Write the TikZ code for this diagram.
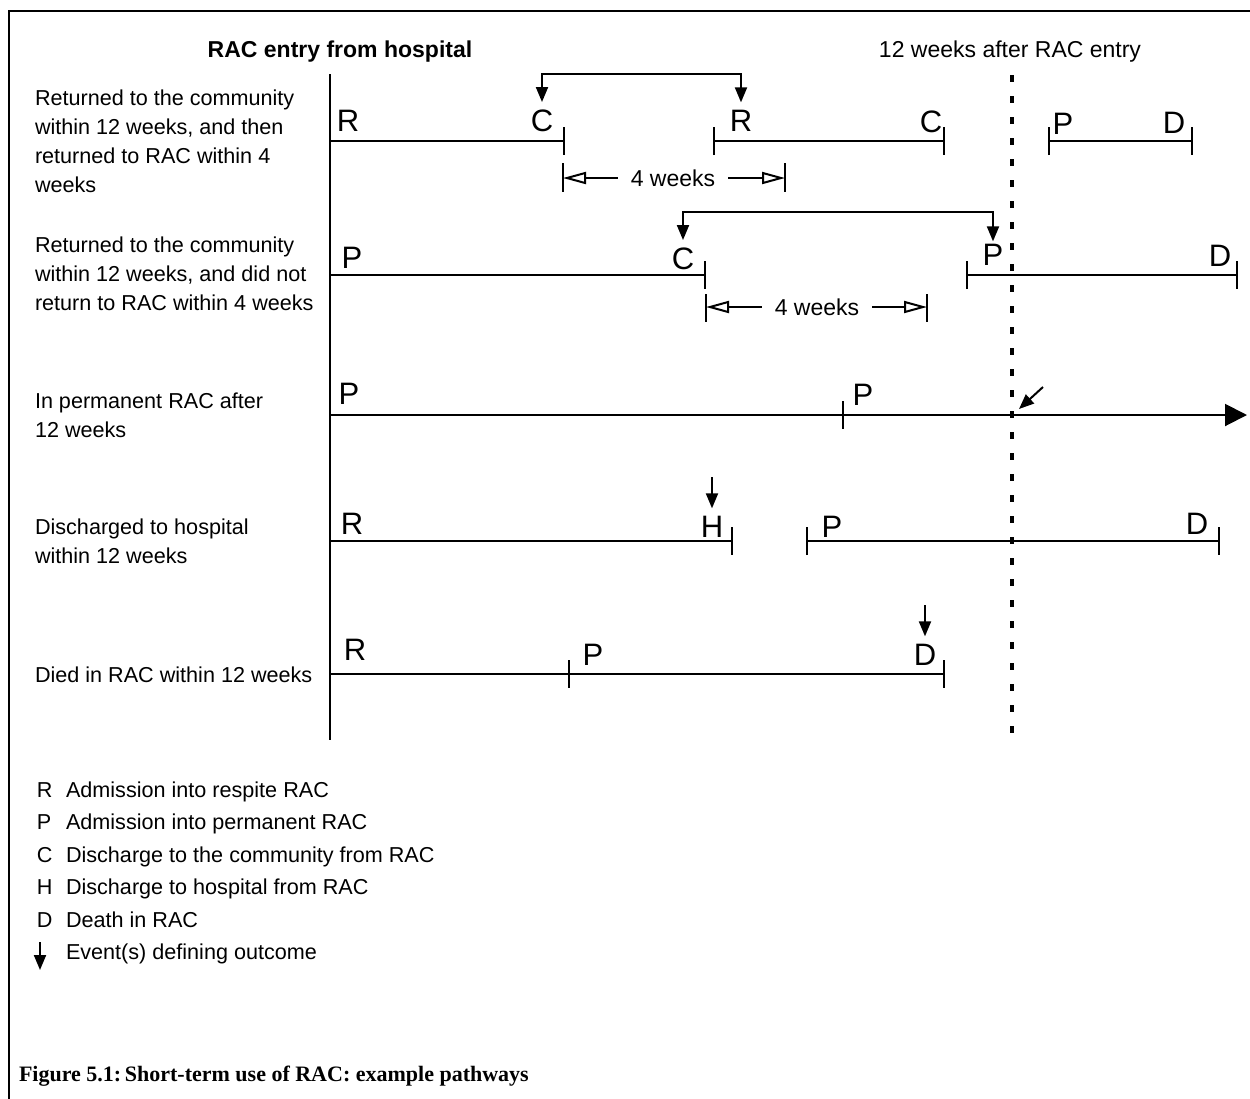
\documentclass[tikz,border=0pt]{standalone}
\usepackage{fontspec}
\setmainfont{Liberation Sans}
\newfontfamily\capfont{Liberation Serif}
\usetikzlibrary{arrows.meta}
\tikzset{lab/.style={anchor=west,align=left,inner sep=0pt,font=\fontsize{10.8}{14.5}\selectfont}}
\tikzset{ev/.style={inner sep=0pt,font=\fontsize{15.5}{18}\selectfont}}
\tikzset{head/.style={inner sep=0pt,font=\fontsize{11.5}{14}\selectfont}}
\tikzset{leg/.style={anchor=base west,inner sep=0pt,font=\fontsize{10.8}{13}\selectfont}}
\tikzset{seg/.style={-{Bar[width=14pt]}}}
\tikzset{segb/.style={{Bar[width=14pt]}-{Bar[width=14pt]}}}
\tikzset{evt/.style={-{Triangle[length=7.5pt,width=6pt]}}}
\tikzset{evbi/.style={{Triangle[length=7.5pt,width=6pt]}-{Triangle[length=7.5pt,width=6pt]}}}
\tikzset{dimar/.style={-{Triangle[open,length=11.5pt,width=6pt]}}}
\tikzset{wks/.style={inner xsep=6pt,inner ysep=0pt,font=\fontsize{11.5}{14}\selectfont}}

\begin{document}
\begin{tikzpicture}[x=0.5pt,y=-0.5pt,line width=1pt]
  \useasboundingbox (0,0) rectangle (1250,1099);
  \draw[line width=1.2pt] (9,1099) -- (9,11) -- (1250,11);
  % headings
  \node[head,font=\bfseries\fontsize{11.5}{14}\selectfont] (entry) at (340,52) {RAC entry from hospital};
  \node[head] (wk12) at (1010,52) {12 weeks after RAC entry};
  % axes
  \draw (330,74) -- (330,740);
  \draw[line width=2pt,dash pattern=on 3.5pt off 7pt] (1012,75) -- (1012,740);
  % row labels
  \node[lab] (l1) at (34,141) {Returned to the community\\within 12 weeks, and then\\returned to RAC within 4\\weeks};
  \node[lab] (l2) at (34,274) {Returned to the community\\within 12 weeks, and did not\\return to RAC within 4 weeks};
  \node[lab] (l3) at (34,415) {In permanent RAC after\\12 weeks};
  \node[lab] (l4) at (34,541) {Discharged to hospital\\within 12 weeks};
  \node[lab] (l5) at (34,675) {Died in RAC within 12 weeks};
  % timelines
  \coordinate (a0) at (330,141); \coordinate (a1) at (565,141);
  \coordinate (a2) at (713,141); \coordinate (a3) at (945,141);
  \coordinate (a4) at (1048,141); \coordinate (a5) at (1193,141);
  \coordinate (b0) at (330,275); \coordinate (b1) at (706,275);
  \coordinate (b2) at (966,275); \coordinate (b3) at (1238,275);
  \coordinate (c0) at (330,415); \coordinate (c1) at (1247,415);
  \coordinate (d0) at (330,541); \coordinate (d1) at (733,541);
  \coordinate (d2) at (806,541); \coordinate (d3) at (1220,541);
  \coordinate (e0) at (330,674); \coordinate (e1) at (945,674);
  \foreach \a/\b in {a0/a1,b0/b1,d0/d1,e0/e1}
    \draw[seg] (\a) -- (\b);
  \foreach \a/\b in {a2/a3,a4/a5,b2/b3,d2/d3}
    \draw[segb] (\a) -- (\b);
  \draw[-{Triangle[length=11pt,width=11pt]}] (c0) -- (c1);
  \draw (843,401) -- (843,429);
  \draw (569,660) -- (569,688);
  % events
  \node[ev] (R1) at (348,121) {R};
  \node[ev] (C1) at (542,121) {C};
  \node[ev] (R1b) at (741,121) {R};
  \node[ev] (C1b) at (931,122) {C};
  \node[ev] (P1) at (1063,124) {P};
  \node[ev] (D1) at (1174,123) {D};
  \node[ev] (P2) at (352,258) {P};
  \node[ev] (C2) at (683,259) {C};
  \node[ev] (P2b) at (993,255) {P};
  \node[ev] (D2) at (1220,256) {D};
  \node[ev] (P3) at (349,394) {P};
  \node[ev] (P3b) at (863,395) {P};
  \node[ev] (R4) at (352,524) {R};
  \node[ev] (H4) at (712,527) {H};
  \node[ev] (P4) at (832,527) {P};
  \node[ev] (D4) at (1197,524) {D};
  \node[ev] (R5) at (355,650) {R};
  \node[ev] (P5) at (593,655) {P};
  \node[ev] (D5) at (925,655) {D};
  % outcome arrows
  \coordinate (br1) at (640,74);
  \coordinate (br2) at (840,212);
  \draw[evbi] ([yshift=3.5pt]C1.north) |- (br1) -| ([yshift=3.5pt]R1b.north);
  \draw[evbi] ([yshift=3.5pt]C2.north) |- (br2) -| ([yshift=1pt]P2b.north);
  \draw[evt] ([yshift=19pt]H4.north) -- ([yshift=3.5pt]H4.north);
  \draw[evt] ([yshift=19pt]D5.north) -- ([yshift=3.5pt]D5.north);
  \draw[evt] (1043,387) -- (1019,409);
  % 4 weeks
  \node[wks] (w1) at (673,178) {4 weeks};
  \node[wks] (w2) at (817,307) {4 weeks};
  \draw (563,163) -- (563,192);
  \draw (785,163) -- (785,192);
  \draw (706,294) -- (706,322);
  \draw (927,294) -- (927,322);
  \draw[dimar] (w1.west) -- (563,178);
  \draw[dimar] (w1.east) -- (785,178);
  \draw[dimar] (w2.west) -- (706,307);
  \draw[dimar] (w2.east) -- (927,307);
  % legend
  \foreach \k/\t [count=\i] in {R/Admission into respite RAC,P/Admission into permanent RAC,C/Discharge to the community from RAC,H/Discharge to hospital from RAC,D/Death in RAC}{
    \node[leg] (key\i) at (36,765+\i*32.4) {\k};
    \node[leg] (txt\i) at (65,765+\i*32.4) {\t};
  }
  \node[leg] (txt6) at (65,959) {Event(s) defining outcome};
  \draw[evt] (40,942) -- (40,970);
  % caption
  \node[anchor=west,inner sep=0pt,font=\capfont\bfseries\fontsize{11}{13}\selectfont] (cap) at (18,1076) {Figure 5.1:\,Short-term use of RAC: example pathways};
\end{tikzpicture}
\end{document}
